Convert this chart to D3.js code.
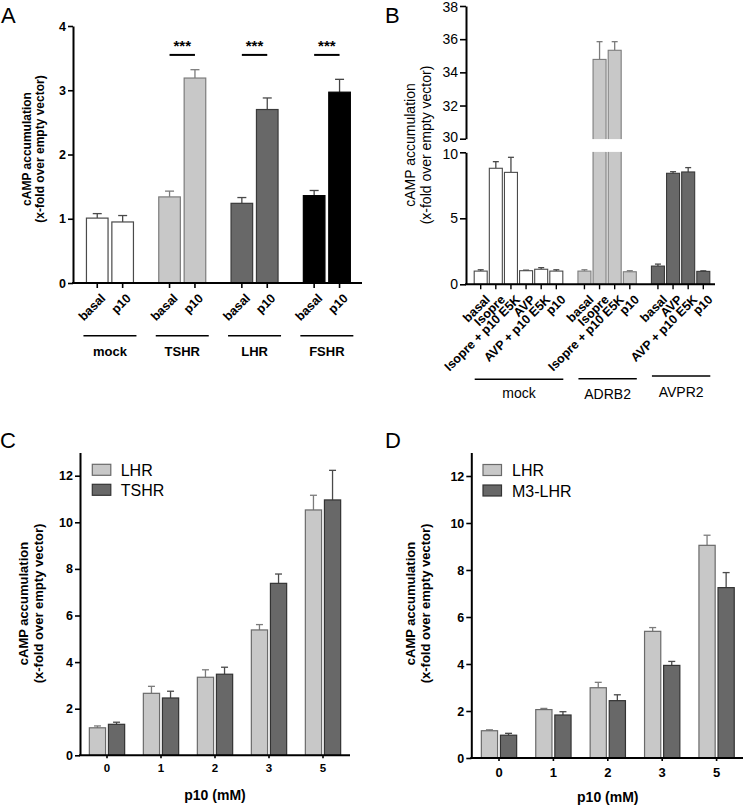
<!DOCTYPE html>
<html><head><meta charset="utf-8">
<script src="https://cdn.jsdelivr.net/npm/d3@7"></script>
<style>body{margin:0;background:#fff} text{font-family:"Liberation Sans",Arial,sans-serif;fill:#000}</style>
</head><body><svg id="c" width="745" height="807" xmlns="http://www.w3.org/2000/svg"></svg>
<script>
// ---------- DATA ----------
// Panel A
const aGroups = ["mock", "TSHR", "LHR", "FSHR"];
const aConds = ["basal", "p10"];
const aMean = [[1.01, 0.95], [1.34, 3.19], [1.24, 2.70], [1.36, 2.97]];
const aErr  = [[0.07, 0.10], [0.09, 0.13], [0.09, 0.18], [0.08, 0.20]];
const aYTicks = [0, 1, 2, 3, 4];
const aSigGroups = ["TSHR", "LHR", "FSHR"];
const aSigText = "***";
const aSigLevel = 3.55;

// Panel B
const bGroups = ["mock", "ADRB2", "AVPR2"];
const bConds = [
  ["basal", "Isopre", "Isopre + p10 E5K", "AVP", "AVP + p10 E5K", "p10"],
  ["basal", "Isopre", "Isopre + p10 E5K", "p10"],
  ["basal", "AVP", "AVP + p10 E5K", "p10"]
];
const bMean = [[1.00, 8.79, 8.48, 1.03, 1.14, 1.00], [1.00, 34.78, 35.33, 0.95], [1.38, 8.41, 8.51, 0.98]];
const bErr  = [[0.10, 0.50, 1.14, 0.04, 0.12, 0.10], [0.10, 1.07, 0.52, 0.08], [0.15, 0.12, 0.33, 0.04]];
const bLowTicks = [0, 5, 10];
const bHighTicks = [30, 32, 34, 36, 38];

// Panels C and D
const doses = ["0", "1", "2", "3", "5"];
const cdYTicks = [0, 2, 4, 6, 8, 10, 12];
const cSeries = ["LHR", "TSHR"];
const cLHR = [1.18, 2.66, 3.35, 5.38, 10.53];
const cLHRerr = [0.08, 0.30, 0.32, 0.23, 0.63];
const cTSHR = [1.33, 2.46, 3.48, 7.38, 10.96];
const cTSHRerr = [0.09, 0.29, 0.30, 0.40, 1.27];
const dSeries = ["LHR", "M3-LHR"];
const dLHR = [1.16, 2.06, 2.99, 5.39, 9.05];
const dLHRerr = [0.04, 0.05, 0.23, 0.16, 0.43];
const dM3 = [0.97, 1.83, 2.44, 3.94, 7.25];
const dM3err = [0.08, 0.14, 0.25, 0.17, 0.64];

const yLabel1 = "cAMP accumulation";
const yLabel2 = "(x-fold over empty vector)";
const xTitle = "p10 (mM)";

// ---------- STYLES ----------
const ST = {
  white: {fill: "#ffffff", stroke: "#4a4a4a", err: "#4a4a4a"},
  light: {fill: "#c8c8c8", stroke: "#7c7c7c", err: "#7c7c7c"},
  dark:  {fill: "#686868", stroke: "#3a3a3a", err: "#4a4a4a"},
  black: {fill: "#000000", stroke: "#000000", err: "#444444"}
};
const FONT = '"Liberation Sans", Arial, sans-serif';
const svg = d3.select("#c");

function errBar(g, cx, yTop, yEnd, cap, color) {
  g.append("line").attr("x1", cx).attr("x2", cx).attr("y1", yTop).attr("y2", yEnd)
    .attr("stroke", color).attr("stroke-width", 1.3);
  g.append("line").attr("x1", cx - cap / 2).attr("x2", cx + cap / 2).attr("y1", yEnd).attr("y2", yEnd)
    .attr("stroke", color).attr("stroke-width", 1.3);
}
function styleAxis(sel, fs, weight) {
  sel.select(".domain").attr("stroke", "#000").attr("stroke-width", 2);
  sel.selectAll(".tick line").attr("stroke", "#000").attr("stroke-width", 1.6);
  sel.selectAll(".tick text").attr("font-family", FONT).attr("font-size", fs)
    .attr("font-weight", weight).attr("fill", "#000");
}
function yTitle(x1, x2, yc, fs, weight) {
  [[x1, yLabel1], [x2, yLabel2]].forEach(([x, t]) => {
    svg.append("text").attr("transform", `translate(${x},${yc}) rotate(-90)`)
      .attr("text-anchor", "middle").attr("font-size", fs).attr("font-weight", weight).text(t);
  });
}
function panelLetter(t, x, y) {
  svg.append("text").attr("x", x).attr("y", y).attr("font-size", 22).text(t);
}

// ---------- PANEL A ----------
(function () {
  const g = svg.append("g");
  const y = d3.scaleLinear().domain([0, 4]).range([283, 26]);
  const x = d3.scaleBand().domain(aGroups).range([73.8, 363]);
  const xi = d3.scaleBand().domain(aConds).range([0, 47]).paddingInner(0.15);
  const styles = [ST.white, ST.light, ST.dark, ST.black];
  const gc = k => x(k) + x.bandwidth() / 2;
  const bc = (k, c) => gc(k) - 23.5 + xi(c) + xi.bandwidth() / 2;

  aGroups.forEach((k, gi) => {
    const s = styles[gi];
    aConds.forEach((c, ci) => {
      const v = aMean[gi][ci], e = aErr[gi][ci];
      errBar(g, bc(k, c), y(v), y(v + e), 9, s.err);
      g.append("rect").attr("x", gc(k) - 23.5 + xi(c)).attr("width", xi.bandwidth())
        .attr("y", y(v)).attr("height", y(0) - y(v))
        .attr("fill", s.fill).attr("stroke", s.stroke).attr("stroke-width", 1.2);
      g.append("line").attr("x1", bc(k, c)).attr("x2", bc(k, c)).attr("y1", y(0)).attr("y2", y(0) + 5)
        .attr("stroke", "#000").attr("stroke-width", 1.6);
      g.append("text").attr("transform", `translate(${bc(k, c) + 9},${y(0) + 16}) rotate(-45)`)
        .attr("text-anchor", "end").attr("font-size", 12.5).attr("font-weight", "bold").text(c);
    });
    g.append("line").attr("x1", gc(k) - 26.5).attr("x2", gc(k) + 26.5).attr("y1", 335.7).attr("y2", 335.7)
      .attr("stroke", "#000").attr("stroke-width", 1.6);
    g.append("text").attr("x", gc(k)).attr("y", 355.5).attr("text-anchor", "middle")
      .attr("font-size", 13).attr("font-weight", "bold").text(k);
  });
  aSigGroups.forEach(k => {
    g.append("line").attr("x1", bc(k, aConds[0])).attr("x2", bc(k, aConds[1]))
      .attr("y1", y(aSigLevel)).attr("y2", y(aSigLevel)).attr("stroke", "#000").attr("stroke-width", 2);
    g.append("text").attr("x", gc(k)).attr("y", y(aSigLevel) - 4).attr("text-anchor", "middle")
      .attr("font-size", 15).attr("font-weight", "bold").text(aSigText);
  });
  const ya = g.append("g").attr("transform", "translate(73,0)")
    .call(d3.axisLeft(y).tickValues(aYTicks).tickSize(5).tickSizeOuter(0).tickPadding(2).tickFormat(d3.format("d")));
  styleAxis(ya, 12.5, "bold");
  g.append("line").attr("x1", 72).attr("x2", 362).attr("y1", y(0)).attr("y2", y(0))
    .attr("stroke", "#000").attr("stroke-width", 2);
  yTitle(31, 44, 149, 12, "bold");
  panelLetter("A", 1, 23);
})();

// ---------- PANEL B ----------
(function () {
  const g = svg.append("g");
  const yLow = d3.scaleLinear().domain([0, 10]).range([284.3, 152.3]);
  const yHigh = d3.scaleLinear().domain([30, 38]).range([138.7, 6]);
  const groupGap = 0.86;
  const nSlots = bConds.reduce((a, c) => a + c.length, 0) - 1 + groupGap * (bGroups.length - 1);
  const x = d3.scaleLinear().domain([0, nSlots]).range([480.7, 703.3]);
  const bw = 13;
  const styles = [ST.white, ST.light, ST.dark];
  const lineY = [379.2, 378.7, 376];
  const labY = [398, 399, 396.5];
  let idx = 0;
  bGroups.forEach((k, gi) => {
    const s = styles[gi];
    const centers = [];
    bConds[gi].forEach((c, ci) => {
      const cx = x(idx + gi * groupGap);
      centers.push(cx);
      idx++;
      const v = bMean[gi][ci], e = bErr[gi][ci];
      const yScale = v > 30 ? yHigh : yLow;
      errBar(g, cx, yScale(v), yScale(v + e), 6, s.err);
      g.append("rect").attr("x", cx - bw / 2).attr("width", bw)
        .attr("y", yScale(v)).attr("height", yLow(0) - yScale(v))
        .attr("fill", s.fill).attr("stroke", s.stroke).attr("stroke-width", 1.1);
      if (v > 30) {
        g.append("rect").attr("x", cx - bw / 2 - 2).attr("width", bw + 4)
          .attr("y", yHigh(30) + 0.4).attr("height", yLow(10) - yHigh(30) - 0.8).attr("fill", "#fff");
      }
      g.append("line").attr("x1", cx).attr("x2", cx).attr("y1", yLow(0)).attr("y2", yLow(0) + 5)
        .attr("stroke", "#000").attr("stroke-width", 1.4);
      g.append("text").attr("transform", `translate(${cx + 10},${yLow(0) + 16}) rotate(-45)`)
        .attr("text-anchor", "end").attr("font-size", 12.5).attr("font-weight", "bold").text(c);
    });
    const x1 = centers[0] - 6, x2 = centers[centers.length - 1] + 7;
    g.append("line").attr("x1", x1).attr("x2", x2).attr("y1", lineY[gi]).attr("y2", lineY[gi])
      .attr("stroke", "#000").attr("stroke-width", 1.6);
    g.append("text").attr("x", (x1 + x2) / 2).attr("y", labY[gi]).attr("text-anchor", "middle")
      .attr("font-size", 14).text(k);
  });
  const a1 = g.append("g").attr("transform", "translate(466,0)")
    .call(d3.axisLeft(yLow).tickValues(bLowTicks).tickSize(6).tickSizeOuter(0).tickPadding(2));
  styleAxis(a1, 14, "normal");
  a1.selectAll(".tick text").filter(d => d === 10).attr("dy", "0.42em");
  const a2 = g.append("g").attr("transform", "translate(466,0)")
    .call(d3.axisLeft(yHigh).tickValues(bHighTicks).tickSize(6).tickSizeOuter(0).tickPadding(2));
  styleAxis(a2, 14, "normal");
  a2.selectAll(".tick text").filter(d => d === 30).attr("dy", "0.2em");
  a2.selectAll(".tick text").filter(d => d === 38).attr("dy", "0.4em");
  g.append("line").attr("x1", 465).attr("x2", 715).attr("y1", yLow(0)).attr("y2", yLow(0))
    .attr("stroke", "#000").attr("stroke-width", 2);
  yTitle(415, 431, 145, 14, "normal");
  panelLetter("B", 385, 23);
})();

// ---------- PANELS C & D ----------
function groupedPanel(opt) {
  const g = svg.append("g");
  const y = d3.scaleLinear().domain([0, 13]).range([opt.y0, opt.y13]);
  const x = d3.scaleBand().domain(doses).range(opt.xr);
  const xi = d3.scaleBand().domain(opt.series).range([0, 35.3]).paddingInner(0.15);
  const styles = [ST.light, ST.dark];
  const gc = k => x(k) + x.bandwidth() / 2;
  opt.series.forEach((sName, si) => {
    const s = styles[si];
    doses.forEach((k, di) => {
      const v = opt.means[si][di], e = opt.errs[si][di];
      const cx = gc(k) - 17.65 + xi(sName) + xi.bandwidth() / 2;
      errBar(g, cx, y(v), y(v + e), 7, s.err);
      g.append("rect").attr("x", gc(k) - 17.65 + xi(sName)).attr("width", xi.bandwidth())
        .attr("y", y(v)).attr("height", y(0) - y(v))
        .attr("fill", s.fill).attr("stroke", si === 0 ? "#6a6a6a" : "#333").attr("stroke-width", 1.2);
    });
    g.append("rect").attr("x", opt.legX).attr("y", opt.legY[si]).attr("width", 18.5).attr("height", 11)
      .attr("fill", s.fill).attr("stroke", si === 0 ? "#6a6a6a" : "#333").attr("stroke-width", 1.2);
    g.append("text").attr("x", opt.legTX).attr("y", opt.legY[si] + 11.6).attr("font-size", 16).text(sName);
  });
  const ya = g.append("g").attr("transform", `translate(${opt.ax},0)`)
    .call(d3.axisLeft(y).tickValues(cdYTicks).tickSize(5).tickSizeOuter(0).tickPadding(2));
  styleAxis(ya, 12.5, "bold");
  const xa = g.append("g").attr("transform", `translate(0,${opt.y0})`)
    .call(d3.axisBottom(x).tickSize(3).tickSizeOuter(0).tickPadding(opt.xPad));
  styleAxis(xa, opt.xFs, "bold");
  xa.select(".domain").attr("d", `M${opt.ax - 1},0H${opt.xEnd}`);
  g.append("text").attr("x", gc(doses[2])).attr("y", opt.titleY).attr("text-anchor", "middle")
    .attr("font-size", 14).attr("font-weight", "bold").text(xTitle);
  yTitle(opt.yl[0], opt.yl[1], 603.5, 13, "bold");
  panelLetter(opt.letter, opt.letterX, 448);
}
groupedPanel({
  series: cSeries, means: [cLHR, cTSHR], errs: [cLHRerr, cTSHRerr],
  y0: 755.3, y13: 452.4, xr: [80, 350], ax: 80, xEnd: 350, xPad: 6, xFs: 11.5, titleY: 800,
  legX: 92.3, legY: [464.3, 484.3], legTX: 120.7, yl: [28, 43], letter: "C", letterX: 0
});
groupedPanel({
  series: dSeries, means: [dLHR, dM3], errs: [dLHRerr, dM3err],
  y0: 758, y13: 452.5, xr: [471.8, 743.8], ax: 471.3, xEnd: 743, xPad: 7, xFs: 13, titleY: 802,
  legX: 483, legY: [464.5, 485], legTX: 512, yl: [415, 430], letter: "D", letterX: 385
});
</script></body></html>
